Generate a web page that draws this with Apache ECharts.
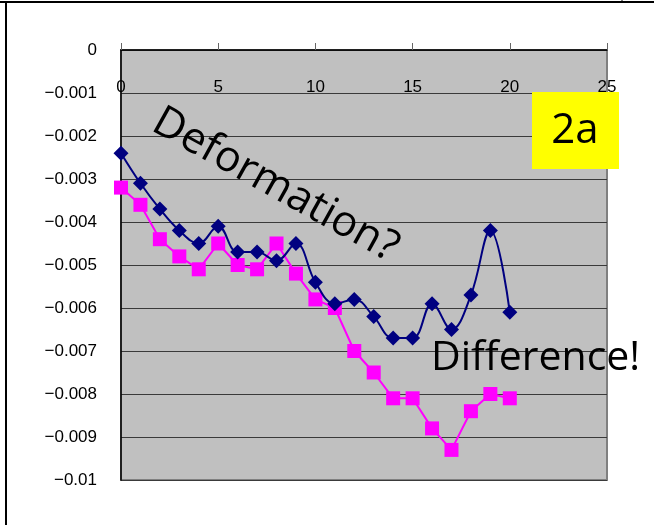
<!DOCTYPE html>
<html>
<head>
<meta charset="utf-8">
<script src="https://cdn.jsdelivr.net/npm/echarts@6/dist/echarts.min.js"></script>
<style>
  html, body { margin: 0; padding: 0; background: #fff; }
  #main { width: 654px; height: 525px; }
</style>
</head>
<body>
<div id="main"></div>
<script>
// x positions 0..20
var xs = [0, 1, 2, 3, 4, 5, 6, 7, 8, 9, 10, 11, 12, 13, 14, 15, 16, 17, 18, 19, 20];
// navy diamonds (smoothed line)
var seriesA = [-0.0024, -0.0031, -0.0037, -0.0042, -0.0045, -0.0041, -0.0047, -0.0047, -0.0049, -0.0045,
  -0.0054, -0.0059, -0.0058, -0.0062, -0.0067, -0.0067, -0.0059, -0.0065, -0.0057, -0.0042, -0.0061];
// magenta squares
var seriesB = [-0.0032, -0.0036, -0.0044, -0.0048, -0.0051, -0.0045, -0.0050, -0.0051, -0.0045, -0.0052,
  -0.0058, -0.0060, -0.0070, -0.0075, -0.0081, -0.0081, -0.0088, -0.0093, -0.0084, -0.0080, -0.0081];
var xTicks = [0, 5, 10, 15, 20, 25];

function pairs(vals) {
  return xs.map(function (x, i) { return [x, vals[i]]; });
}

var chartDom = document.getElementById("main");
var myChart = echarts.init(chartDom);
var option;

option = {
  animation: false,
  grid: {
    left: 121,
    top: 50,
    right: 47,
    bottom: 45,
    show: true,
    backgroundColor: "#c0c0c0",
    borderColor: "#808080",
    borderWidth: 2
  },
  xAxis: {
    type: "value",
    position: "top",
    min: xTicks[0],
    max: xTicks[xTicks.length - 1],
    interval: 5,
    axisLine: { show: true, onZero: false, lineStyle: { color: "#000", width: 1.5 } },
    axisTick: { show: true, inside: false, length: 7, lineStyle: { color: "#666" } },
    axisLabel: {
      inside: true,
      margin: 29,
      color: "#000",
      fontFamily: "Liberation Sans",
      fontSize: 17
    },
    splitLine: { show: false }
  },
  yAxis: {
    type: "value",
    min: -0.01,
    max: 0,
    interval: 0.001,
    axisLine: { show: true, onZero: false, lineStyle: { color: "#000", width: 1.5 } },
    axisTick: { show: false },
    axisLabel: {
      margin: 24,
      color: "#000",
      fontFamily: "Liberation Sans",
      fontSize: 17,
      formatter: function (v) {
        var r = Math.round(v * 1000) / 1000;
        if (r === 0) return "0";
        return "\u2212" + String(Math.abs(r));
      }
    },
    splitLine: { show: true, lineStyle: { color: "#3a3a3a", width: 1 } }
  },
  series: [
    {
      type: "line",
      data: pairs(seriesB),
      symbol: "rect",
      symbolSize: 14,
      lineStyle: { color: "#ff00ff", width: 2 },
      itemStyle: { color: "#ff00ff" },
      z: 3
    },
    {
      type: "line",
      data: pairs(seriesA),
      smooth: 0.4,
      symbol: "diamond",
      symbolSize: 15,
      lineStyle: { color: "#000080", width: 2 },
      itemStyle: { color: "#000080" },
      z: 4
    }
  ],
  graphic: [
    // outer frame
    { type: "line", shape: { x1: 6, y1: 2, x2: 6, y2: 525 }, style: { stroke: "#000", lineWidth: 2 }, z: 100 },
    { type: "line", shape: { x1: 0, y1: 2, x2: 654, y2: 2 }, style: { stroke: "#000", lineWidth: 2 }, z: 100 },
    { type: "line", shape: { x1: 622, y1: 0, x2: 622, y2: 3 }, style: { stroke: "#000", lineWidth: 1 }, z: 100 },
    // label box 2a
    {
      type: "rect",
      shape: { x: 532, y: 92, width: 87, height: 77 },
      style: { fill: "#ffff00" },
      z: 100
    },
    {
      type: "text",
      x: 575,
      y: 131,
      style: {
        text: "2a",
        fill: "#000",
        font: "42px 'Open Sans'",
        align: "center",
        verticalAlign: "middle"
      },
      z: 101
    },
    {
      type: "text",
      x: 166,
      y: 100,
      rotation: -29 * Math.PI / 180,
      style: {
        text: "Deformation?",
        fill: "#000",
        font: "43px 'Open Sans'",
        align: "left",
        verticalAlign: "top"
      },
      z: 101
    },
    {
      type: "text",
      x: 431,
      y: 358,
      style: {
        text: "Difference!",
        fill: "#000",
        font: "41px 'Open Sans'",
        align: "left",
        verticalAlign: "middle"
      },
      z: 101
    }
  ]
};

option && myChart.setOption(option);
</script>
</body>
</html>
